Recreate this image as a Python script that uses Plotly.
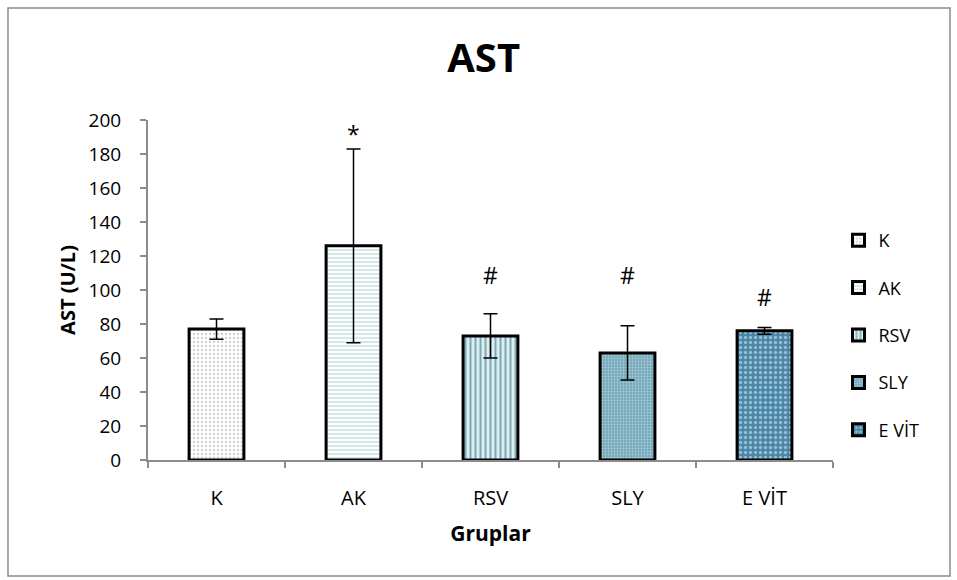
import plotly.graph_objects as go

# AST serum levels per group (mean and error)
groups = ["K", "AK", "RSV", "SLY", "E VİT"]
ast_mean = [77, 126, 73, 63, 76]
ast_err = [6, 57, 13, 16, 2]
sig_marks = ["", "*", "#", "#", "#"]
sig_y = [None, 192, 109, 109, 96]

fills = [
    dict(color="#ffffff", shape=".", fg="#cfcfcf", size=4, sol=0.25),
    dict(color="#ffffff", shape="-", fg="#a9d2d6", size=4, sol=0.25),
    dict(color="#dcefef", shape="|", fg="#7ea8b6", size=5, sol=0.4),
    dict(color="#79a9bb", shape=".", fg="#a8cfdc", size=3, sol=0.3),
    dict(color="#4a85a6", shape=".", fg="#93bed3", size=5, sol=0.35),
]

FONT = "Open Sans"

fig = go.Figure()
for i, g in enumerate(groups):
    f = fills[i]
    fig.add_trace(go.Bar(
        x=[g], y=[ast_mean[i]], name=g, width=0.4,
        legendgroup=g,
        marker=dict(
            color=f["color"],
            line=dict(color="#000000", width=3),
            pattern=dict(shape=f["shape"], fgcolor=f["fg"], bgcolor=f["color"],
                         size=f["size"], solidity=f["sol"], fillmode="replace"),
        ),
        error_y=dict(type="data", array=[ast_err[i]], visible=True,
                     color="#000000", thickness=1.5, width=7),
    ))

for g, m, yv in zip(groups, sig_marks, sig_y):
    if m:
        fig.add_annotation(x=g, y=yv, text=m, showarrow=False,
                           font=dict(family=FONT, size=23, color="#000000"))

# outer frame
fig.add_shape(type="rect", xref="paper", yref="paper",
              x0=-0.2044, x1=1.1708, y0=-0.341, y1=1.3294,
              line=dict(color="#8c8c8c", width=1.5), fillcolor="rgba(0,0,0,0)")

fig.update_layout(
    width=957, height=580,
    margin=dict(l=148, r=124, t=120, b=120),
    paper_bgcolor="#ffffff", plot_bgcolor="#ffffff",
    barmode="overlay",
    showlegend=True,
    title=dict(text="<b>AST</b>", x=0.49, xref="paper", y=0.9, yref="container",
               xanchor="center", yanchor="middle",
               font=dict(family=FONT, size=40, color="#000000")),
    legend=dict(x=1.008, y=0.7, xanchor="left", yanchor="top",
                traceorder="grouped", tracegroupgap=21,
                font=dict(family=FONT, size=18, color="#000000"),
                bgcolor="rgba(0,0,0,0)"),
    font=dict(family=FONT, color="#000000"),
)

fig.update_xaxes(
    type="category", categoryorder="array", categoryarray=groups,
    showline=True, linecolor="#8c8c8c", linewidth=2,
    ticks="outside", tickson="boundaries", ticklen=6, tickcolor="#8c8c8c", tickwidth=2,
    ticklabelstandoff=19,
    tickfont=dict(family=FONT, size=20, color="#000000"),
    title=dict(text="<b>Gruplar</b>", font=dict(family=FONT, size=21, color="#000000"),
               standoff=16),
    showgrid=False, zeroline=False,
)
fig.update_yaxes(
    range=[0, 200], dtick=20,
    showline=True, linecolor="#8c8c8c", linewidth=2,
    ticks="outside", ticklen=6, tickcolor="#8c8c8c", tickwidth=2,
    ticklabelstandoff=15,
    tickfont=dict(family=FONT, size=19, color="#000000"),
    title=dict(text="<b>AST (U/L)</b>", font=dict(family=FONT, size=20, color="#000000"),
               standoff=8),
    showgrid=False, zeroline=False,
)

fig.write_html("out.html")
